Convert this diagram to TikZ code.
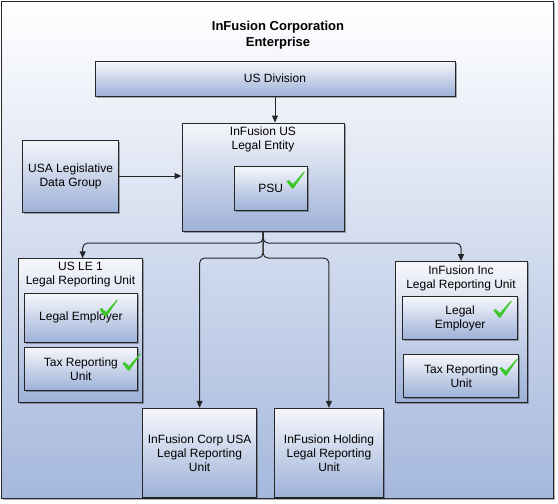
\documentclass[tikz,border=0pt]{standalone}
\usepackage{fontspec}
\setmainfont{Liberation Sans}
\usetikzlibrary{arrows.meta,shadows}
\definecolor{linec}{HTML}{262626}
\definecolor{boxtop}{HTML}{F6F7FB}
\definecolor{boxbot}{HTML}{9DB1D8}
\definecolor{bgbot}{HTML}{A5B8DD}
\definecolor{checkc}{HTML}{3CC828}
\tikzset{
  shd/.style={drop shadow={shadow xshift=1.5pt, shadow yshift=-1.5pt, fill=black, opacity=0.3}},
  box/.style={draw=linec, line width=1pt, top color=boxtop, bottom color=boxbot, shd,
    align=center, inner sep=0pt, font=\fontsize{12}{14}\selectfont},
  lbl/.style={align=center, inner sep=0pt, font=\fontsize{12}{14}\selectfont},
  conn/.style={draw=linec, line width=1pt, -{Triangle[length=7pt,width=6pt]}},
  chk/.pic={\fill[checkc] (-6.5,-6.5) -- (-4.5,-8) -- (0,-4) -- (11,-16.5) -- (11.8,-16) -- (0.5,0.5) -- (-1,0.5) -- cycle;}
}
\begin{document}
\begin{tikzpicture}[x=1pt,y=-1pt]
\useasboundingbox (0,0) rectangle (558,504);
% enterprise
\node[draw=linec, line width=1pt, top color=white, bottom color=bgbot, shd,
  minimum width=552pt, minimum height=497pt, inner sep=0pt] (ent) at (277.5,250) {};
\node[lbl, font=\bfseries\fontsize{13}{16}\selectfont] (enttitle) at (278,35) {InFusion Corporation\\Enterprise};
% top
\node[box, minimum width=360pt, minimum height=35pt] (usdiv) at (275,78.5) {US Division};
\node[box, minimum width=162pt, minimum height=108pt] (leus) at (263,177) {};
\node[lbl] (leustitle) at (263,139) {InFusion US\\Legal Entity};
\node[box, minimum width=72.5pt, minimum height=44pt] (psu) at (270.75,188) {PSU};
\node[box, minimum width=96pt, minimum height=72pt] (ldg) at (70.6,176) {USA Legislative\\Data Group};
% left LRU
\node[box, minimum width=124pt, minimum height=144pt] (le1) at (80.5,330.3) {};
\node[lbl] (le1title) at (80.5,274.7) {US LE 1\\Legal Reporting Unit};
\node[box, minimum width=113.4pt, minimum height=49pt] (lemp1) at (80.9,317.8) {Legal Employer};
\node[box, minimum width=113.4pt, minimum height=43.4pt] (tax1) at (80.9,369) {Tax Reporting\\Unit};
% right LRU
\node[box, minimum width=132pt, minimum height=140.6pt] (inc) at (461,332) {};
\node[lbl] (inctitle) at (461,278) {InFusion Inc\\Legal Reporting Unit};
\node[box, minimum width=114.8pt, minimum height=42.6pt] (lemp2) at (460.1,318) {Legal\\Employer};
\node[box, minimum width=114.7pt, minimum height=43pt] (tax2) at (461.2,375.8) {Tax Reporting\\Unit};
% bottom LRUs
\node[box, minimum width=114pt, minimum height=89pt] (corp) at (199.6,452.8) {InFusion Corp USA\\Legal Reporting\\Unit};
\node[box, minimum width=108.3pt, minimum height=89pt] (hold) at (328.95,452.8) {InFusion Holding\\Legal Reporting\\Unit};
% checks
\pic at (293,188) {chk};
\pic at (106,316) {chk};
\pic at (129,370) {chk};
\pic at (500,317) {chk};
\pic at (506,375) {chk};
% connectors
\coordinate (b1) at (263,243);
\coordinate (b2) at (263,258);
\coordinate (le1in) at (82.7,258.3);
\draw[conn] (usdiv.south) -- (usdiv.south |- leus.north);
\draw[conn] (ldg.east) -- (ldg.east -| leus.west);
\draw[conn, rounded corners=5pt] (leus.south) -- (b1) -| (le1in);
\draw[conn, rounded corners=5pt] (leus.south) -- (b1) -| (inc.north);
\draw[conn, rounded corners=5pt] (leus.south) -- (b2) -| (corp.north);
\draw[conn, rounded corners=5pt] (leus.south) -- (b2) -| (hold.north);
\end{tikzpicture}
\end{document}
